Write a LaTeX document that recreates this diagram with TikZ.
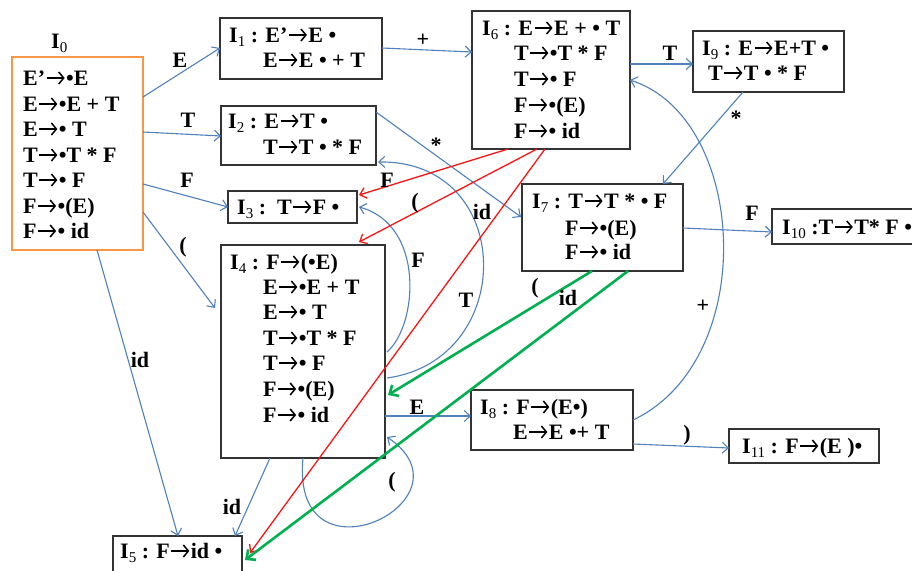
\documentclass[tikz,border=0pt]{standalone}
\usepackage{fontspec}
\setmainfont{Liberation Serif}
\usetikzlibrary{arrows.meta}
\definecolor{eblue}{RGB}{79,129,189}
\definecolor{eorange}{RGB}{247,150,70}
\definecolor{ered}{RGB}{250,20,20}
\definecolor{egreen}{RGB}{0,176,80}
\newcommand\rarr{\tikz[baseline=0pt,x=1pt,y=1pt,line width=1.5pt]{\path (0,0) rectangle (21,14); \draw[black,-{Straight Barb[length=5pt,width=12pt]}] (1.5,7) -- (19.5,7);}}
\newcommand\Iname[1]{I\raisebox{-0.22em}{\fontsize{15pt}{15pt}\selectfont\mdseries #1}}
\newcommand\txtline[4]{\node[txt] (#1) at (#2,#3) {#4};}
\tikzset{
  box/.style={draw=black!80, line width=1.5pt, rectangle, inner sep=0pt, outer sep=0pt, anchor=north west},
  txt/.style={anchor=base west, inner sep=0pt, font=\fontsize{22pt}{24pt}\selectfont\bfseries},
  lbl/.style={inner sep=0pt, font=\fontsize{22pt}{24pt}\selectfont\bfseries},
  bedge/.style={draw=eblue, line width=1.1pt, -{Straight Barb[length=6pt,width=11pt]}},
  redge/.style={draw=ered, line width=1.3pt, -{Straight Barb[length=6pt,width=11pt]}},
  gedge/.style={draw=egreen, line width=2.6pt, -{Straight Barb[length=7pt,width=13pt]}}
}
\begin{document}
\begin{tikzpicture}[x=1pt,y=-1pt]
\useasboundingbox (0,0) rectangle (912,570);
\clip (0,0) rectangle (912,570);
\fill[white] (0,0) rectangle (912,570);
% boxes
\node[box, draw=eorange, line width=2.2pt, minimum width=131pt, minimum height=193pt] (I0) at (12,57) {};
\node[box, minimum width=162pt, minimum height=61pt] (I1) at (220,18) {};
\node[box, minimum width=158pt, minimum height=138pt] (I6) at (472,11) {};
\node[box, minimum width=151pt, minimum height=61pt] (I9) at (693,31) {};
\node[box, minimum width=155pt, minimum height=59pt] (I2) at (221,106) {};
\node[box, minimum width=129pt, minimum height=32pt] (I3) at (228,191) {};
\node[box, minimum width=164pt, minimum height=213pt] (I4) at (221,245) {};
\node[box, minimum width=161pt, minimum height=87pt] (I7) at (522,184) {};
\node[box, minimum width=158pt, minimum height=35pt] (I10) at (772,209) {};
\node[box, minimum width=162pt, minimum height=60pt] (I8) at (471,390) {};
\node[box, minimum width=150pt, minimum height=34pt] (I11) at (729,429) {};
\node[box, minimum width=129pt, minimum height=49pt] (I5) at (113,536) {};
% texts
\txtline{I0lab}{51}{48}{\Iname{0}}
\txtline{a1}{23}{85}{E'\rarr•E}
\txtline{a2}{23}{111}{E\rarr•E + T}
\txtline{a3}{23}{136}{E\rarr• T}
\txtline{a4}{23}{162}{T\rarr•T * F}
\txtline{a5}{23}{187}{T\rarr• F}
\txtline{a6}{23}{213}{F\rarr•(E)}
\txtline{a7}{23}{238}{F\rarr• id}
\txtline{b1}{229}{42}{\Iname{1} : E'\rarr E •}
\txtline{b2}{263}{67}{E\rarr E • + T}
\txtline{c1}{482}{35}{\Iname{6} : E\rarr E + • T}
\txtline{c2}{514}{60}{T\rarr•T * F}
\txtline{c3}{514}{86}{T\rarr• F}
\txtline{c4}{514}{112}{F\rarr•(E)}
\txtline{c5}{514}{138}{F\rarr• id}
\txtline{d1}{702}{55}{\Iname{9} : E\rarr E+T •}
\txtline{d2}{708}{80}{T\rarr T • * F}
\txtline{e1}{228}{128}{\Iname{2} : E\rarr T •}
\txtline{e2}{263}{154}{T\rarr T • * F}
\txtline{f1}{237}{214}{\Iname{3} :\ \ T\rarr F •}
\txtline{g1}{230}{269}{\Iname{4} : F\rarr(•E)}
\txtline{g2}{263}{294}{E\rarr•E + T}
\txtline{g3}{263}{319}{E\rarr• T}
\txtline{g4}{263}{345}{T\rarr•T * F}
\txtline{g5}{263}{370}{T\rarr• F}
\txtline{g6}{263}{396}{F\rarr•(E)}
\txtline{g7}{263}{422}{F\rarr• id}
\txtline{h1}{532}{208}{\Iname{7} : T\rarr T * • F}
\txtline{h2}{565}{235}{F\rarr•(E)}
\txtline{h3}{565}{259}{F\rarr• id}
\txtline{k1}{782}{234}{\Iname{10} :T\rarr T* F •}
\txtline{m1}{480}{414}{\Iname{8} : F\rarr(E•)}
\txtline{m2}{513}{439}{E\rarr E •+ T}
\txtline{n1}{742}{453}{\Iname{11} : F\rarr (E )•}
\txtline{p1}{120}{558}{\Iname{5} : F\rarr id •}
% blue edges
\draw[bedge] ([yshift=-40pt]I0.north east) -- ([yshift=-30pt]I1.north west);
\draw[bedge] ([yshift=-75pt]I0.north east) -- ([yshift=-30pt]I2.north west);
\draw[bedge] ([yshift=-127pt]I0.north east) -- (I3.west);
\draw[bedge] ([yshift=-155pt]I0.north east) -- ([xshift=-6pt,yshift=-63pt]I4.north west);
\draw[bedge] ([xshift=85pt]I0.south west) -- ([xshift=65pt]I5.north west);
\draw[bedge] ([yshift=-30pt]I1.north east) -- ([yshift=-41pt]I6.north west);
\draw[bedge] ([yshift=-53pt]I6.north east) -- ([yshift=-33pt]I9.north west);
\draw[bedge] ([yshift=-6pt]I2.north east) -- ([xshift=-1pt,yshift=-33pt]I7.north west);
\draw[bedge] ([xshift=50pt]I9.south west) -- ([xshift=-20pt]I7.north east);
\draw[bedge] ([yshift=-44pt]I7.north east) -- ([yshift=-23pt]I10.north west);
\draw[bedge] ([yshift=-171pt]I4.north east) -- ([yshift=-26pt]I8.north west);
\draw[bedge] ([yshift=-54pt]I8.north east) -- ([yshift=-19pt]I11.north west);
\draw[bedge] ([yshift=-30pt]I8.north east) .. controls (760,360) and (748,118) .. ([yshift=-69pt]I6.north east);
\draw[bedge] ([xshift=2pt,yshift=-107pt]I4.north east) .. controls (418,325) and (425,225) .. ([xshift=2pt]I3.east);
\draw[bedge] ([xshift=2pt,yshift=-133pt]I4.north east) .. controls (518,360) and (516,160) .. ([xshift=2pt,yshift=3pt]I2.south east);
\draw[bedge] ([xshift=82pt]I4.south west) .. controls (290,592) and (480,500) .. ([xshift=2pt,yshift=21pt]I4.south east);
\draw[bedge] ([xshift=49pt]I4.south west) -- ([xshift=-7pt]I5.north east);
% red edges
\draw[redge] ([xshift=36pt]I6.south west) -- ([xshift=2pt,yshift=-4pt]I3.north east);
\draw[redge] ([xshift=65pt]I6.south west) -- ([xshift=-26pt,yshift=3pt]I4.north east);
\draw[redge] ([xshift=73pt]I6.south west) -- ([xshift=8pt,yshift=-17pt]I5.north east);
% green edges
\draw[gedge] ([xshift=70pt]I7.south west) -- ([xshift=3pt,yshift=-150pt]I4.north east);
\draw[gedge] ([xshift=106pt]I7.south west) -- ([xshift=3pt,yshift=-24pt]I5.north east);
% labels
\node[lbl] (l1) at (180,60) {E};
\node[lbl] (l2) at (188,120) {T};
\node[lbl] (l3) at (187,180) {F};
\node[lbl] (l4) at (183,247) {(};
\node[lbl] (l5) at (140,360) {id};
\node[lbl] (l6) at (423,40) {+};
\node[lbl] (l7) at (670,53) {T};
\node[lbl] (l8) at (436,145) {*};
\node[lbl] (l9) at (736,118) {*};
\node[lbl] (l10) at (752,213) {F};
\node[lbl] (l11) at (417,407) {E};
\node[lbl] (l12) at (687,435) {)};
\node[lbl] (l13) at (703,306) {+};
\node[lbl] (l14) at (418,260) {F};
\node[lbl] (l15) at (466,300) {T};
\node[lbl] (l16) at (392,482) {(};
\node[lbl] (l17) at (232,507) {id};
\node[lbl] (l18) at (387,180) {F};
\node[lbl] (l19) at (415,203) {(};
\node[lbl] (l20) at (482,212) {id};
\node[lbl] (l21) at (535,288) {(};
\node[lbl] (l22) at (568,298) {id};
\end{tikzpicture}
\end{document}
